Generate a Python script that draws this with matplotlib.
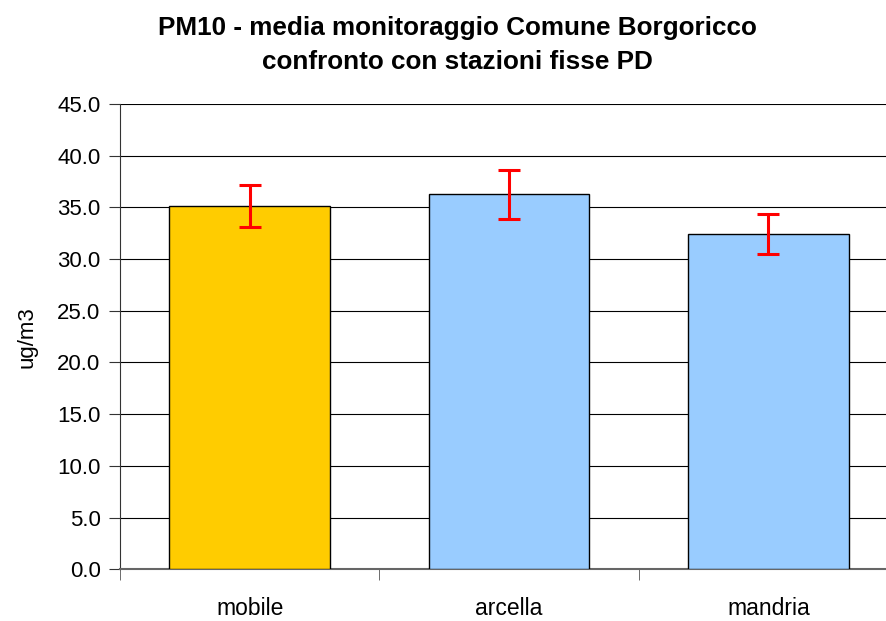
import numpy as np
import matplotlib
matplotlib.use("Agg")
import matplotlib.pyplot as plt

# dati
stazioni = ["mobile", "arcella", "mandria"]
medie = [35.15, 36.25, 32.4]
errori = [2.0, 2.35, 1.95]
colori = ["#FFCC00", "#99CCFF", "#99CCFF"]

plt.rcParams["font.family"] = ["Liberation Sans", "DejaVu Sans"]

fig = plt.figure(figsize=(8.86, 6.21), dpi=100)
ax = fig.add_axes([120 / 886, 1 - 569.3 / 621, 778 / 886, 465.3 / 621])

x = np.arange(len(stazioni))
ax.bar(x, medie, width=0.62, color=colori, edgecolor="black", linewidth=1.0, zorder=3)
ax.errorbar(x, medie, yerr=errori, fmt="none", ecolor="#FF0000", elinewidth=2.2,
            capsize=8, capthick=2.2, zorder=4)

ax.set_xlim(-0.5, len(stazioni) - 0.5)
ax.set_ylim(0, 45)
ax.set_yticks(np.arange(0, 45.1, 5))
ax.set_yticklabels([f"{v:.1f}" for v in np.arange(0, 45.1, 5)])
ax.yaxis.grid(True, color="black", linewidth=0.8, zorder=0)

ax.set_xticks(x)
ax.set_xticklabels(stazioni)
ax.set_xticks(np.arange(-0.5, len(stazioni), 1), minor=True)
ax.tick_params(axis="x", which="major", length=0, pad=20, labelsize=16.5)
ax.tick_params(axis="x", which="minor", length=8, direction="out", color="#555555")
ax.tick_params(axis="y", length=8, direction="out", labelsize=16, pad=6, color="#333333")

for s in ["top", "right"]:
    ax.spines[s].set_visible(False)
ax.spines["left"].set_color("#333333")
ax.spines["bottom"].set_color("#666666")
ax.spines["bottom"].set_linewidth(1.5)

ax.set_ylabel("ug/m3", fontsize=16, labelpad=14)

fig.text(457 / 886, 1 - 28 / 621, "PM10 - media monitoraggio Comune Borgoricco",
         ha="center", va="center", fontsize=18.8, fontweight="bold")
fig.text(457 / 886, 1 - 62 / 621, "confronto con stazioni fisse PD",
         ha="center", va="center", fontsize=18.8, fontweight="bold")

fig.savefig("out.png", dpi=100)
